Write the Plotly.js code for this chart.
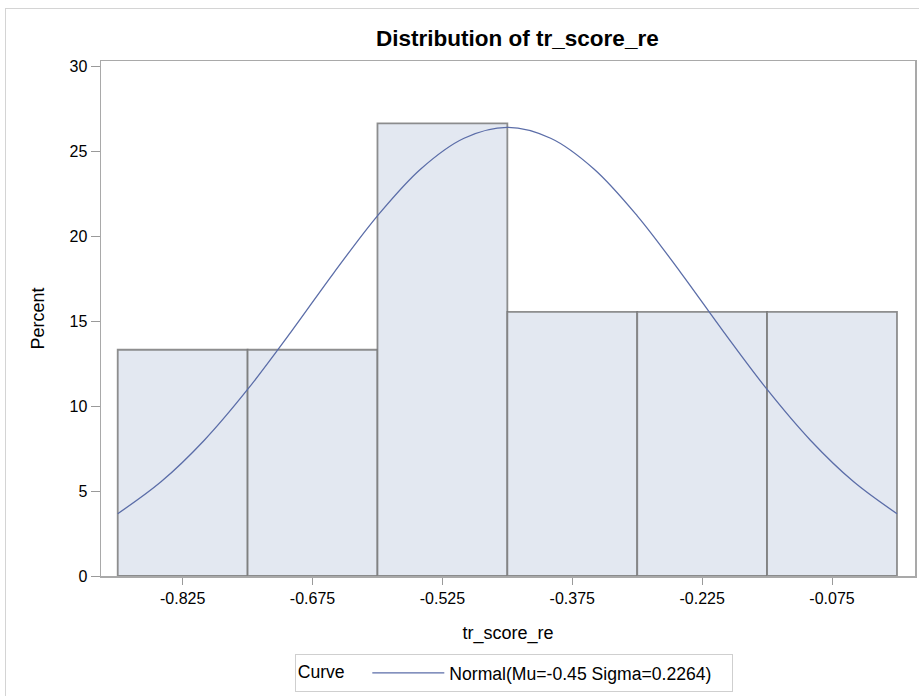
<!DOCTYPE html>
<html>
<head>
<meta charset="utf-8">
<script src="https://cdn.plot.ly/plotly-3.0.1.min.js"></script>
<style>
  html, body { margin: 0; padding: 0; background: #fff; }
  #wrap { position: relative; width: 919px; height: 696px; overflow: hidden; }
  #chart { position: absolute; left: 0; top: 0; width: 919px; height: 696px; }
  #frame { position: absolute; left: 5px; top: 8px; width: 1000px; height: 1000px;
           border-left: 1px solid #d4d4d4; border-top: 1px solid #d4d4d4; pointer-events: none; }
</style>
</head>
<body>
<div id="wrap"><div id="chart"></div><div id="frame"></div></div>
<script>
// Histogram bins (midpoints) and percents
const binMidpoints = [-0.825, -0.675, -0.525, -0.375, -0.225, -0.075];
const binPercents  = [13.33, 13.33, 26.67, 15.56, 15.56, 15.56];
const binWidth = 0.15;

// Fitted normal curve
const curveX = [-0.9, -0.85, -0.8, -0.75, -0.7, -0.65, -0.6, -0.55, -0.5, -0.45,
                -0.4, -0.35, -0.3, -0.25, -0.2, -0.15, -0.1, -0.05, 0.0];
const curveY = [3.67, 5.55, 8.0, 10.99, 14.37, 17.89, 21.22, 23.98, 25.79, 26.43,
                25.79, 23.98, 21.22, 17.89, 14.37, 10.99, 8.0, 5.55, 3.67];

const xTickVals = [-0.825, -0.675, -0.525, -0.375, -0.225, -0.075];
const xTickText = ["-0.825", "-0.675", "-0.525", "-0.375", "-0.225", "-0.075"];
const yTickVals = [0, 5, 10, 15, 20, 25, 30];

const chartTitle = "Distribution of tr_score_re";
const xTitle = "tr_score_re";
const yTitle = "Percent";
const legendTitle = "Curve";
const curveName = "Normal(Mu=-0.45 Sigma=0.2264)";

const FONT = "Liberation Sans, Arial, sans-serif";
const NB = "\u00a0";

const traces = [
  {
    type: "bar",
    x: binMidpoints,
    y: binPercents,
    width: binMidpoints.map(() => binWidth),
    marker: { color: "#e3e8f1", line: { color: "rgba(115,115,115,0.8)", width: 1.8 } },
    showlegend: false,
    hoverinfo: "skip"
  },
  {
    type: "scatter",
    mode: "lines",
    x: curveX,
    y: curveY,
    line: { color: "#5b6da8", width: 1.3, shape: "spline", smoothing: 1 },
    name: curveName + NB + NB + NB,
    showlegend: true
  }
];

const layout = {
  width: 919,
  height: 696,
  paper_bgcolor: "#ffffff",
  plot_bgcolor: "#ffffff",
  margin: { l: 101, r: 4, t: 61, b: 120 },
  font: { family: FONT, size: 17, color: "#000" },
  title: {
    text: "<b>" + chartTitle + "</b>",
    font: { family: FONT, size: 22.5, color: "#000" },
    x: 0.563, xref: "container", xanchor: "center",
    y: 1 - 38 / 696, yref: "container", yanchor: "middle"
  },
  bargap: 0,
  xaxis: {
    range: [-0.9193, 0.0208],
    tickmode: "array",
    tickvals: xTickVals,
    ticktext: xTickText,
    ticks: "outside",
    ticklen: 7,
    tickcolor: "#9a9a9a",
    tickwidth: 1,
    showline: true,
    linecolor: "#a9a9a9",
    linewidth: 1.5,
    mirror: true,
    showgrid: false,
    zeroline: false,
    tickfont: { family: FONT, size: 16, color: "#000" },
    title: { text: xTitle, font: { family: FONT, size: 18, color: "#000" }, standoff: 20 }
  },
  yaxis: {
    range: [0, 30.34],
    tickmode: "array",
    tickvals: yTickVals,
    ticks: "outside",
    ticklen: 9,
    tickcolor: "#9a9a9a",
    tickwidth: 1,
    showline: true,
    linecolor: "#a9a9a9",
    linewidth: 1.5,
    mirror: true,
    showgrid: false,
    zeroline: false,
    tickfont: { family: FONT, size: 16, color: "#000" },
    title: { text: yTitle, font: { family: FONT, size: 18, color: "#000" }, standoff: 20 }
  },
  showlegend: true,
  legend: {
    orientation: "h",
    xref: "paper",
    x: 0.507, xanchor: "center",
    yref: "container",
    y: 1 - 654 / 696, yanchor: "top",
    bordercolor: "#cfcfcf",
    borderwidth: 1,
    itemwidth: 72,
    font: { family: FONT, size: 17.6, color: "#000" },
    title: { text: legendTitle + NB + NB + NB, side: "left", font: { family: FONT, size: 17.6, color: "#000" } }
  }
};

Plotly.newPlot("chart", traces, layout, { staticPlot: true, displayModeBar: false });
</script>
</body>
</html>
